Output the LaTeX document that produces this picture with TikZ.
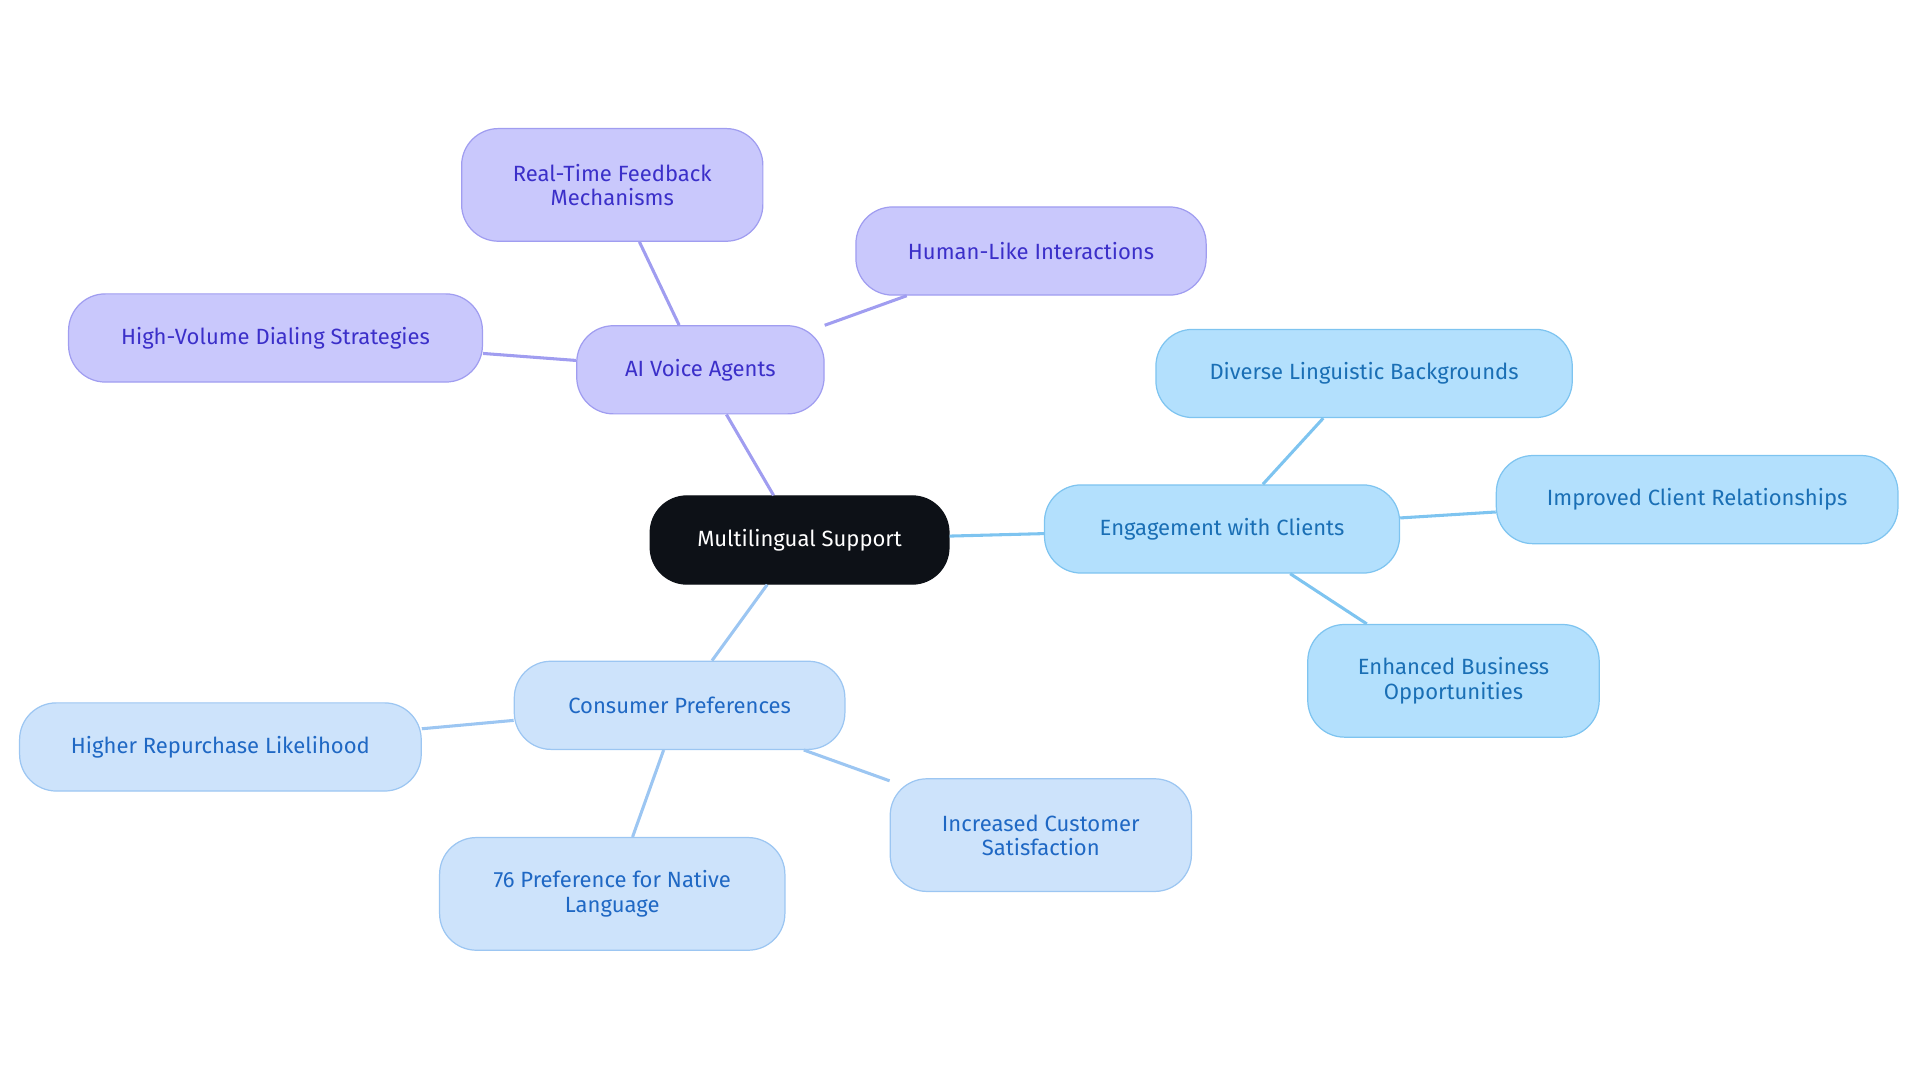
\documentclass[tikz,border=0pt]{standalone}
\usepackage{fontspec}
\setmainfont{Fira Sans}
\definecolor{pf}{HTML}{C9C8FC}\definecolor{pd}{HTML}{A09DF0}\definecolor{pt}{HTML}{3B2FC9}
\definecolor{bf}{HTML}{B3E0FD}\definecolor{bd}{HTML}{7EC4F0}\definecolor{bt}{HTML}{1A6FB5}
\definecolor{lf}{HTML}{CDE3FB}\definecolor{ld}{HTML}{9CC6F2}\definecolor{lt}{HTML}{1F68C4}
\definecolor{cf}{HTML}{0D1117}
\begin{document}
\begin{tikzpicture}[x=1pt,y=-1pt,
  n/.style={rounded corners=30pt,draw,line width=1pt,align=center,font=\fontsize{18}{20}\selectfont,inner sep=0pt},
  P/.style={n,fill=pf,draw=pd,text=pt},
  B/.style={n,fill=bf,draw=bd,text=bt},
  L/.style={n,fill=lf,draw=ld,text=lt},
  e/.style={line width=2.5pt}]
\useasboundingbox (0,0) rectangle (1568,884);
\node[n,fill=cf,draw=cf,text=white,minimum width=244pt,minimum height=72pt] (c) at (653,441) {Multilingual Support};
\node[P,minimum width=202pt,minimum height=72pt] (ai) at (572,302) {AI Voice Agents};
\node[P,minimum width=246pt,minimum height=92pt] (rt) at (500,151) {Real-Time Feedback\\Mechanisms};
\node[P,minimum width=286pt,minimum height=72pt] (hl) at (842,205) {Human-Like Interactions};
\node[P,minimum width=338pt,minimum height=72pt] (hv) at (225,276) {High-Volume Dialing Strategies};
\node[B,minimum width=290pt,minimum height=72pt] (en) at (998,432) {Engagement with Clients};
\node[B,minimum width=340pt,minimum height=72pt] (dl) at (1114,305) {Diverse Linguistic Backgrounds};
\node[B,minimum width=328pt,minimum height=72pt] (ic) at (1386,408) {Improved Client Relationships};
\node[B,minimum width=238pt,minimum height=92pt] (eb) at (1187,556) {Enhanced Business\\Opportunities};
\node[L,minimum width=270pt,minimum height=72pt] (cp) at (555,576) {Consumer Preferences};
\node[L,minimum width=328pt,minimum height=72pt] (hr) at (180,610) {Higher Repurchase Likelihood};
\node[L,minimum width=282pt,minimum height=92pt] (np) at (500,730) {76 Preference for Native\\Language};
\node[L,minimum width=246pt,minimum height=92pt] (cs) at (850,682) {Increased Customer\\Satisfaction};
\begin{scope}[on background layer/.style={}]
\end{scope}
\draw[e,pd] (c) -- (ai);
\draw[e,pd] (ai) -- (rt); \draw[e,pd] (ai) -- (hl); \draw[e,pd] (ai) -- (hv);
\draw[e,bd] (c) -- (en);
\draw[e,bd] (en) -- (dl); \draw[e,bd] (en) -- (ic); \draw[e,bd] (en) -- (eb);
\draw[e,ld] (c) -- (cp);
\draw[e,ld] (cp) -- (hr); \draw[e,ld] (cp) -- (np); \draw[e,ld] (cp) -- (cs);
\end{tikzpicture}
\end{document}
